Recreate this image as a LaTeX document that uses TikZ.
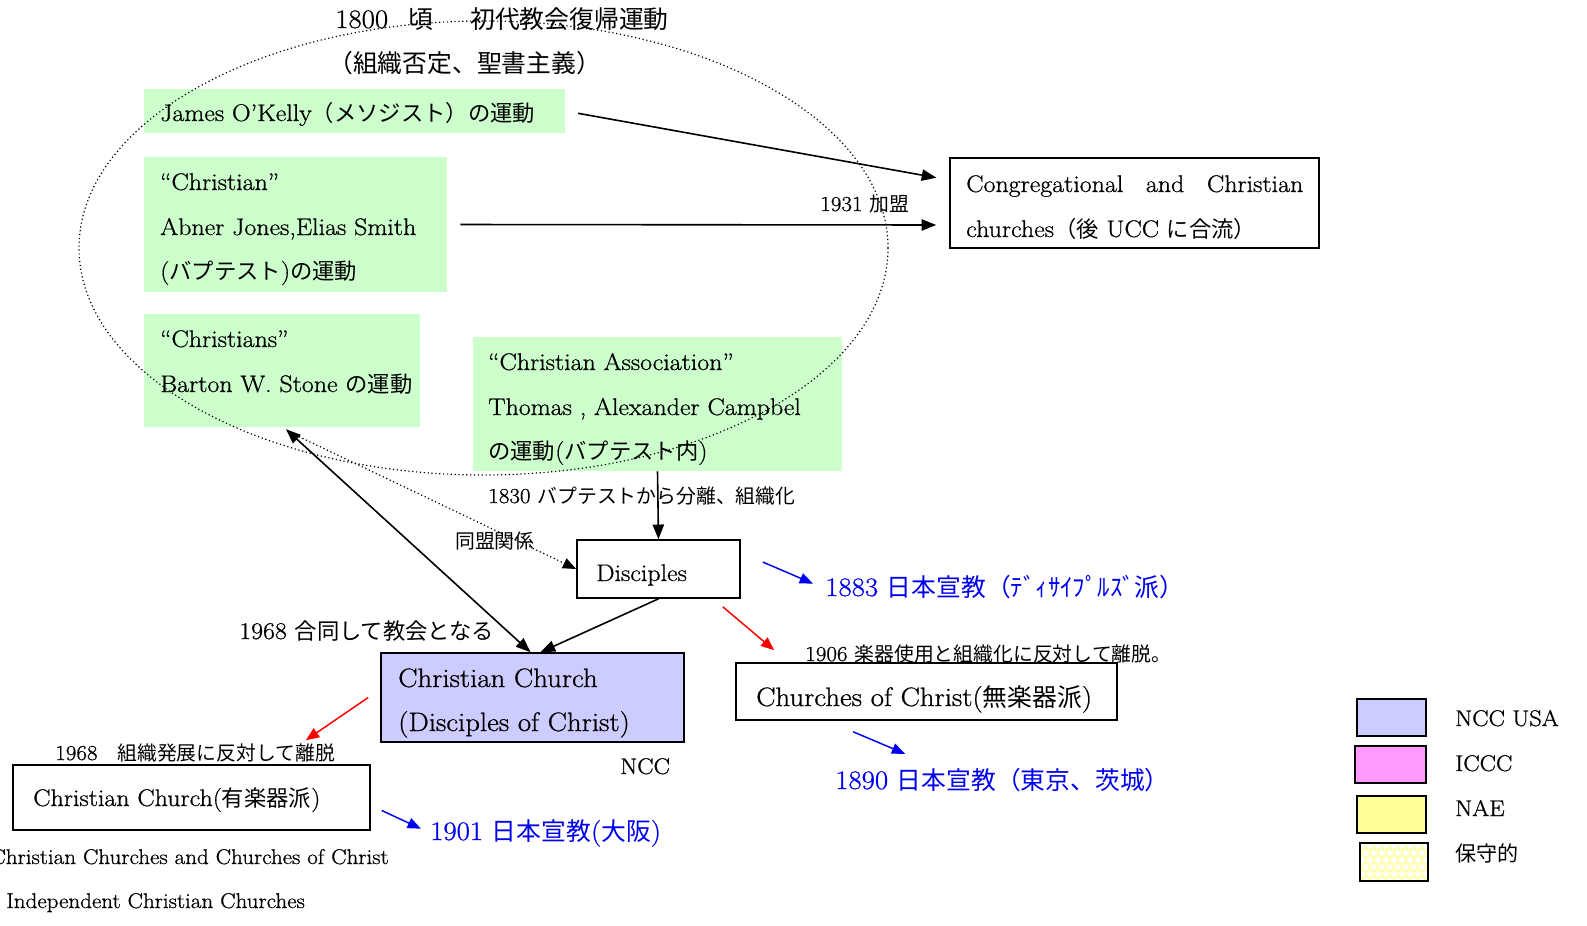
\documentclass[tikz,border=0pt]{standalone}
\usepackage{fontspec}
\setmainfont{Latin Modern Roman}[FakeStretch=1.08, FakeBold=0.8]
\newfontfamily\jpf[Scale=0.93]{Noto Sans CJK JP}
\newcommand{\J}[1]{{\jpf #1}}
\usetikzlibrary{arrows.meta,calc,fit}
\definecolor{grn}{HTML}{CCFFCC}
\definecolor{ncccol}{HTML}{CCCCFF}
\definecolor{iccccol}{HTML}{FF99FF}
\definecolor{naecol}{HTML}{FFFF99}
\definecolor{consv}{HTML}{FFFFB0}
\definecolor{blu}{HTML}{0000F0}
\definecolor{rd}{HTML}{FF0000}
\tikzset{
  gbox/.style={fill=grn, draw=none, inner sep=0pt},
  bbox/.style={draw=black, line width=1.2pt, inner sep=0pt},
  fs/.style={font=\fontsize{#1}{#1}\selectfont},
  txt/.style={anchor=base west, inner sep=0pt, fs=18},
  small/.style={anchor=base west, inner sep=0pt, fs=16},
  big/.style={anchor=base west, inner sep=0pt, fs=20},
  bluetxt/.style={anchor=base west, inner sep=0pt, fs=20, text=blu},
  blk/.style={line width=1.2pt, -{Triangle[length=11pt,width=8.5pt]}},
  dbl/.style={line width=1.2pt, {Triangle[length=11pt,width=8.5pt]}-{Triangle[length=11pt,width=8.5pt]}},
  bluarr/.style={line width=1.1pt, draw=blu, -{Triangle[length=10pt,width=8pt]}},
  redarr/.style={line width=1.1pt, draw=rd, -{Triangle[length=10pt,width=8pt]}},
}
\begin{document}
\begin{tikzpicture}[x=0.75pt,y=-0.75pt]
\useasboundingbox (0,0) rectangle (1587,925);
\fill[white] (0,0) rectangle (1587,925);
% green boxes
\node[gbox, fit={(144,89) (565,133)}] (b1) {};
\node[gbox, fit={(144,157) (447,292)}] (b2) {};
\node[gbox, fit={(144,314) (420,427)}] (b3) {};
\node[gbox, fit={(473,337) (842,471)}] (b4) {};
% ellipse
\draw[dotted, line width=0.9pt] (483.5,248) ellipse [x radius=404.5, y radius=227];
% title
\node[big] (t1) at (335,28) {1800\hspace{0.75em}\J{頃}\hspace{1.4em}\J{初代教会復帰運動}};
\node[big] (t2) at (328,72) {\J{（組織否定、聖書主義）}};
% green texts
\node[txt] (b1t) at (160,121) {James O\symbol{"27}Kelly\J{（メソジスト）の運動}};
\node[txt] (b2t1) at (160,190) {“Christian”};
\node[txt] (b2t2) at (160,235) {Abner Jones,Elias Smith};
\node[txt] (b2t3) at (160,279) {(\J{バプテスト})\J{の運動}};
\node[txt] (b3t1) at (160,347) {“Christians”};
\node[txt] (b3t2) at (160,392) {Barton W. Stone \J{の運動}};
\node[txt] (b4t1) at (488,370) {“Christian Association”};
\node[txt] (b4t2) at (488,415) {Thomas , Alexander Campbel};
\node[txt] (b4t3) at (488,459) {\J{の運動}(\J{バプテスト内})};
% congregational box
\node[bbox, fit={(950,158) (1319,248)}] (cong) {};
\node[txt] (congt1) at (966,192) {\hbox to 252.75pt{Congregational\hfill and\hfill Christian}};
\node[txt] (congt2) at (966,237) {churches\J{（後} UCC \J{に合流）}};
% disciples
\node[bbox, fit={(577,540) (740,598)}] (disc) {};
\node[txt] (disct) at (596,581) {Disciples};
% Christian Church (Disciples of Christ)
\node[bbox, fill=ncccol, fit={(381,653) (684,742)}] (cc) {};
\node[big] (cct1) at (398,687) {Christian Church};
\node[big] (cct2) at (398,731) {(Disciples of Christ)};
\node[anchor=base west, inner sep=0pt, fs=17] (ncc) at (620,774) {NCC};
% Christian Church (instrumental)
\node[bbox, fit={(13,765) (370,830)}] (chbox) {};
\node[anchor=base west, inner sep=0pt, fs=18] (chboxt) at (33,806) {Christian Church(\J{有楽器派})};
% Churches of Christ
\node[bbox, fit={(736,663) (1117,720)}] (coc) {};
\node[big] (coct) at (756,706) {Churches of Christ(\J{無楽器派})};
% labels
\node[small] (l1931) at (820,211) {1931 \J{加盟}};
\node[small] (l1830) at (488,503) {1830 \J{バプテストから分離、組織化}};
\node[small] (ldomei) at (455,548) {\J{同盟関係}};
\node[txt] (l1968a) at (239,639) {1968 \J{合同して教会となる}};
\node[small] (l1968b) at (55,760) {1968\J{　組織発展に反対して離脱}};
\node[small] (l1906) at (805,661) {1906 \J{楽器使用と組織化に反対して離脱。}};
% blue texts
\node[bluetxt] (t1883) at (825,596) {1883 \J{日本宣教（ﾃﾞｨｻｲﾌﾟﾙｽﾞ派）}};
\node[bluetxt] (t1890) at (835,789) {1890 \J{日本宣教（東京、茨城）}};
\node[bluetxt] (t1901) at (430,840) {1901 \J{日本宣教}(\J{大阪})};
% bottom texts
\node[anchor=base east, inner sep=0pt, fs=16] (ccc) at (389,864) {Christian Churches and Churches of Christ};
\node[anchor=base west, inner sep=0pt, fs=16] (icc) at (6,908) {Independent Christian Churches};
% arrows
\draw[blk, shorten <=9.75pt, shorten >=9.75pt] (b1.east) -- ($(cong.west)+(0,-23)$);
\draw[blk, shorten <=9.75pt, shorten >=9.75pt] (b2.east) -- ($(cong.west)+(0,22)$);
\draw[blk] (b4.south) -- (disc.north);
\draw[dbl] ($(b3.south)+(4,2)$) -- ($(cc.north)+(-2,0)$);
\draw[blk] (disc.south) -- ($(cc.north)+(8,0)$);
\draw[dotted, line width=0.9pt, -{Triangle[length=10pt,width=8pt]}] ($(b3.south)+(10,6)$) -- (disc.west);
\draw[redarr] ($(cc.west)+(-12,0)$) -- ($(chbox.north east)+(-65,-24)$);
\draw[bluarr, shorten >=7.5pt] ($(chbox.east)+(11,13)$) -- (t1901.west);
\draw[bluarr] ($(disc.east)+(22,-7)$) -- ($(t1883.west)+(-12,-3)$);
\draw[redarr] ($(disc.south east)+(-18,8)$) -- ($(coc.north west)+(39,-12)$);
\draw[bluarr] ($(coc.south west)+(118,11)$) -- ($(coc.south west)+(170,33)$);
% legend
\node[bbox, fill=ncccol, fit={(1357,699) (1426,736)}] (lg1) {};
\node[bbox, fill=iccccol, fit={(1355,746) (1426,783)}] (lg2) {};
\node[bbox, fill=naecol, fit={(1357,796) (1426,833)}] (lg3) {};
\begin{scope}
\clip (1360,843) rectangle (1428,881);
\fill[consv] (1360,843) rectangle (1428,881);
\foreach \i in {0,...,9} {
  \foreach \j in {0,...,5} {
    \fill[white] ({1362+\i*8+mod(\j,2)*4},{846+\j*7}) circle (3);
  }
}
\end{scope}
\node[bbox, fit={(1360,843) (1428,881)}] (lg4) {};
\node[anchor=base west, inner sep=0pt, fs=17] (lgt1) at (1455,726) {NCC USA};
\node[anchor=base west, inner sep=0pt, fs=17] (lgt2) at (1455,771) {ICCC};
\node[anchor=base west, inner sep=0pt, fs=17] (lgt3) at (1455,816) {NAE};
\node[anchor=base west, inner sep=0pt, fs=17] (lgt4) at (1455,861) {\J{保守的}};
\end{tikzpicture}
\end{document}
